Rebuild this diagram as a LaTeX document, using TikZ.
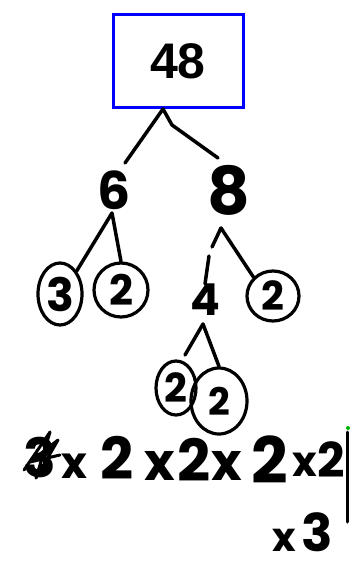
\documentclass[tikz,border=0pt]{standalone}
\usepackage{fontspec}
\setmainfont{Poppins}
\newfontfamily\boxfont{Liberation Sans}
\usetikzlibrary{shapes.geometric}
\begin{document}
\begin{tikzpicture}[x=1pt,y=-1pt,
  ink/.style={line width=3.5pt, line cap=round, line join=round, black},
  hand/.style={font=\bfseries\fontsize{#1}{#1}\selectfont, inner sep=0pt, text=black},
  ring/.style={draw, ellipse, line width=3.2pt, inner sep=0pt},
  topbox/.style={draw=blue, line width=3pt, minimum width=130pt, minimum height=93pt,
    inner sep=0pt, font=\boxfont\bfseries\fontsize{50}{50}\selectfont}
]
\useasboundingbox (0,0) rectangle (361,573);
\fill[white] (0,0) rectangle (361,573);

% top box
\node[topbox] (root) at (178,61) {48};

% first level
\node[hand=52] (six) at (114,190) {6};
\node[hand=66] (eight) at (229,190) {8};
\draw[ink] ([xshift=-15pt]root.south) -- (125,163);
\draw[ink] ([xshift=-15pt]root.south) -- (172,125) -- (218,158);

% children of 6
\node[ring, minimum width=44pt, minimum height=62pt, hand=46] (c3) at (60,294) {3};
\node[ring, minimum width=54pt, minimum height=54pt, hand=42] (c2a) at (121,290) {2};
\coordinate (a6) at (112,213);
\draw[ink] (a6) -- (c3.north east);
\draw[ink] (a6) -- (c2a.north);

% children of 8
\node[hand=44] (four) at (205,300) {4};
\node[ring, minimum width=52pt, minimum height=50pt, hand=40] (c2b) at (273,296) {2};
\coordinate (a8) at (221,228);
\draw[ink] (a8) -- (212,247);
\draw[ink] (209,256) -- (four.north);
\draw[ink] (a8) -- (c2b.north west);

% children of 4
\node[ring, minimum width=40pt, minimum height=54pt, hand=40] (c2c) at (176,388) {2};
\node[ring, minimum width=56pt, minimum height=66pt, hand=38] (c2d) at (219,401) {2};
\coordinate (a4) at (203,324);
\draw[ink] (a4) -- (185,355);
\draw[ink] (a4) -- (c2d.north);

% bottom line
\node[hand=54] (b3) at (40,457) {3};
\draw[ink, line width=3pt] (24,470) -- (50,432) -- (36,478) -- (58,440) -- (30,462) -- (60,455);
\node[hand=44] (bx1) at (74,466) {x};
\node[hand=58] (b21) at (117,458) {2};
\node[hand=52] (bx2) at (160,466) {x};
\node[hand=58] (b22) at (194,460) {2};
\node[hand=52] (bx3) at (227,466) {x};
\node[hand=64] (b23) at (270,460) {2};
\node[hand=42] (bx4) at (305,465) {x};
\node[hand=48] (b24) at (331,460) {2};
\draw[ink, line width=3pt] (347,432) -- (347,522);
\fill[green!70!black] (348,428) circle (2pt);

\node[hand=40] (bx5) at (284,540) {x};
\node[hand=52] (b3b) at (317,532) {3};
\end{tikzpicture}
\end{document}
